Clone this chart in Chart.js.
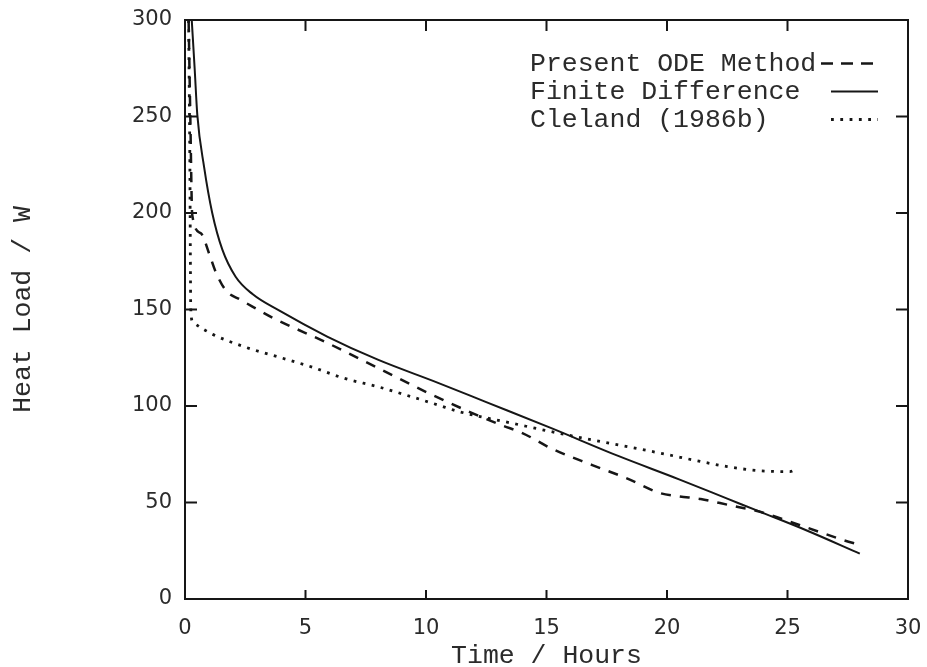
<!DOCTYPE html>
<html>
<head>
<meta charset="utf-8">
<script src="https://cdn.jsdelivr.net/npm/chart.js@4.4.1/dist/chart.umd.min.js"></script>
<style>
html,body{margin:0;padding:0;background:#fff;}
#wrap{width:927px;height:667px;}
</style>
</head>
<body>
<div id="wrap"><canvas id="heatChart" width="927" height="667"></canvas></div>
<script>

// Present ODE Method (dashed)
let odeX = [0.15, 0.22, 0.3, 0.65, 1.0, 1.27, 1.69, 2.31, 2.93, 3.69, 5.92, 8.0, 10.1, 11.8, 13.15, 14.0, 15.2, 16.9, 18.3, 19.7, 20.5, 21.4, 22.2, 23.0, 23.7, 25.8, 27.3, 28.0];
let odeY = [300, 250, 199, 189.6, 179, 169.6, 160, 155, 150.6, 145.4, 132.6, 119.7, 106.7, 97, 90, 86, 78, 69.4, 62.7, 54.9, 53.2, 51.8, 49.7, 47.5, 45.7, 37, 30.6, 28];

// Finite Difference (solid)
let fdX = [0.28, 0.4, 0.51, 0.79, 1.13, 1.55, 2.1, 2.8, 3.9, 5.9, 8.0, 10.5, 12.5, 15.2, 18.0, 20.5, 22.5, 23.8, 25.8, 28.0];
let fdY = [300, 275, 251, 224, 200, 181, 167, 158, 149.5, 136, 124, 112, 102, 88.5, 74, 62, 52, 45.5, 35.5, 23.5];

// Cleland (1986b) (dotted)
let clX = [0.15, 0.2, 0.24, 0.32, 1.08, 2.46, 3.85, 5.24, 6.62, 8.0, 9.4, 10.5, 11.4, 13.6, 15.2, 16.9, 18.75, 20.1, 21.1, 22.5, 23.8, 25.1, 25.4];
let clY = [300, 230, 150, 143.6, 137.6, 130.7, 125.5, 120.3, 114.3, 110, 104.8, 100.5, 97, 91, 86.7, 82.4, 78, 74.6, 72, 68.6, 66.5, 66, 67.7];

let seriesNames = ["Present ODE Method", "Finite Difference", "Cleland (1986b)"];

let xTicks = [0, 5, 10, 15, 20, 25, 30];
let yTicks = [0, 50, 100, 150, 200, 250, 300];

const INK = "#161616";
const TEXT = "#2b2b2b";
const MONO = "'Liberation Mono', 'DejaVu Sans Mono', monospace";
const SANS = "'DejaVu Sans', 'Liberation Sans', sans-serif";

function toPoints(xs, ys){
   return xs.map(function(x, i){ return { x: x, y: ys[i] }; });
}

/* frame round the plot with inward ticks */
const frameTicks = {
   id: "frameTicks",
   afterDatasetsDraw(chart){
      let ctx = chart.ctx;
      let a = chart.chartArea;
      let sx = chart.scales.x;
      let sy = chart.scales.y;
      ctx.save();
      ctx.strokeStyle = INK;
      ctx.lineWidth = 2;
      ctx.strokeRect(a.left, a.top, a.right - a.left, a.bottom - a.top);
      ctx.beginPath();
      xTicks.slice(1, -1).forEach(function(v){
         let px = sx.getPixelForValue(v);
         ctx.moveTo(px, a.bottom); ctx.lineTo(px, a.bottom - 9);
         ctx.moveTo(px, a.top); ctx.lineTo(px, a.top + 11);
      });
      yTicks.slice(1, -1).forEach(function(v){
         let py = sy.getPixelForValue(v);
         ctx.moveTo(a.left, py); ctx.lineTo(a.left + 12, py);
         ctx.moveTo(a.right, py); ctx.lineTo(a.right - 12, py);
      });
      ctx.stroke();
      ctx.restore();
   }
};

/* legend: text first, line sample after */
const sideLegend = {
   id: "sideLegend",
   afterDatasetsDraw(chart){
      let ctx = chart.ctx;
      let a = chart.chartArea;
      let textX = a.left + 345;
      let lineX1 = a.left + 693;
      ctx.save();
      ctx.font = "26.5px " + MONO;
      ctx.fillStyle = TEXT;
      ctx.textBaseline = "middle";
      ctx.textAlign = "left";
      chart.data.datasets.forEach(function(ds, i){
         let y = a.top + 43.5 + i * 28;
         ctx.fillText(ds.label, textX, y);
         let lineX0 = i === 0 ? a.left + 636 : a.left + 646;
         ctx.beginPath();
         ctx.strokeStyle = INK;
         ctx.lineWidth = ds.borderWidth;
         ctx.setLineDash(i === 0 ? [12, 8] : (ds.borderDash || []));
         ctx.moveTo(lineX0, y);
         ctx.lineTo(lineX1, y);
         ctx.stroke();
      });
      ctx.restore();
   }
};

let ctx = document.getElementById("heatChart").getContext("2d");

new Chart(ctx, {
   type: "scatter",
   data: {
      datasets: [
         {
            label: seriesNames[0],
            data: toPoints(odeX, odeY),
            showLine: true,
            borderColor: INK,
            borderWidth: 2.5,
            borderDash: [10, 9],
            pointRadius: 0,
            cubicInterpolationMode: "monotone"
         },
         {
            label: seriesNames[1],
            data: toPoints(fdX, fdY),
            showLine: true,
            borderColor: INK,
            borderWidth: 2,
            borderDash: [],
            pointRadius: 0,
            cubicInterpolationMode: "monotone"
         },
         {
            label: seriesNames[2],
            data: toPoints(clX, clY),
            showLine: true,
            borderColor: INK,
            borderWidth: 2.8,
            borderDash: [2.8, 6.5],
            pointRadius: 0,
            cubicInterpolationMode: "monotone"
         }
      ]
   },
   options: {
      responsive: false,
      animation: false,
      layout: {
         autoPadding: false,
         padding: { top: 20, right: 19, bottom: 0, left: 0 }
      },
      plugins: {
         legend: { display: false },
         tooltip: { enabled: false }
      },
      scales: {
         x: {
            type: "linear",
            min: 0,
            max: 30,
            grid: { display: false, drawTicks: false },
            border: { display: false },
            afterBuildTicks: function(scale){
               scale.ticks = xTicks.map(v => ({ value: v }));
            },
            afterFit: function(scale){
               scale.height = 68;
               scale.paddingLeft = 0;
               scale.paddingRight = 0;
            },
            ticks: {
               color: TEXT,
               padding: 17,
               maxRotation: 0,
               font: { family: SANS, size: 21 }
            },
            title: {
               display: true,
               text: "Time / Hours",
               color: TEXT,
               padding: { top: 0, bottom: 0 },
               font: { family: MONO, size: 26.5, lineHeight: 0.8 }
            }
         },
         y: {
            type: "linear",
            min: 0,
            max: 300,
            grid: { display: false, drawTicks: false },
            border: { display: false },
            afterBuildTicks: function(scale){
               scale.ticks = yTicks.map(v => ({ value: v }));
            },
            afterFit: function(scale){
               scale.width = 185;
               scale.paddingTop = 0;
               scale.paddingBottom = 0;
            },
            ticks: {
               color: TEXT,
               padding: 13,
               font: { family: SANS, size: 21 }
            },
            title: {
               display: true,
               text: "Heat Load / W",
               color: TEXT,
               padding: { top: 12, bottom: 0 },
               font: { family: MONO, size: 26.5, lineHeight: 0.8 }
            }
         }
      }
   },
   plugins: [frameTicks, sideLegend]
});

</script>
</body>
</html>
